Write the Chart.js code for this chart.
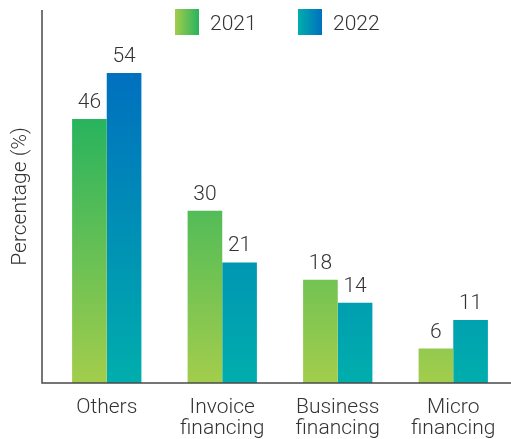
<!DOCTYPE html>
<html>
<head>
<meta charset="utf-8">
<script src="https://cdn.jsdelivr.net/npm/chart.js@4"></script>
<style>
  html, body { margin: 0; padding: 0; background: #fff; }
  #wrap { width: 511px; height: 439px; }
</style>
</head>
<body>
<div id="wrap"><canvas id="chart"></canvas></div>
<script>
// Chart data
const categories = [['Others'], ['Invoice', 'financing'], ['Business', 'financing'], ['Micro', 'financing']];
const series2021 = [46, 30, 18, 6];
const series2022 = [54, 21, 14, 11];
const seriesNames = ['2021', '2022'];

const textColor = '#333';
const fontFamily = 'Roboto, "Noto Sans", sans-serif';

// vertical gradient from the zero line up to the top value of the series
function barGradient(context, bottomColor, topColor, topValue) {
    const chart = context.chart;
    const area = chart.chartArea;
    if (!area) return bottomColor;
    const y = chart.scales.y;
    const g = chart.ctx.createLinearGradient(0, y.getPixelForValue(0), 0, y.getPixelForValue(topValue));
    g.addColorStop(0, bottomColor);
    g.addColorStop(1, topColor);
    return g;
}

// axis lines, value labels and legend
const decorations = {
    id: 'decorations',
    afterDatasetsDraw(chart) {
        const ctx = chart.ctx;
        const area = chart.chartArea;
        const axisX = area.left - 7;

        ctx.save();
        ctx.strokeStyle = '#4a4a4a';
        ctx.lineWidth = 1.5;
        ctx.beginPath();
        ctx.moveTo(axisX, area.top);
        ctx.lineTo(axisX, area.bottom);
        ctx.lineTo(area.right, area.bottom);
        ctx.stroke();

        // value labels
        ctx.fillStyle = textColor;
        ctx.font = '300 21px ' + fontFamily;
        ctx.textAlign = 'center';
        ctx.textBaseline = 'alphabetic';
        chart.data.datasets.forEach((ds, i) => {
            chart.getDatasetMeta(i).data.forEach((bar, j) => {
                ctx.fillText(String(ds.data[j]), bar.x, bar.y - 11);
            });
        });

        // legend
        const items = [
            { x: 175, c0: '#a3cd4c', c1: '#28b35e', label: seriesNames[0] },
            { x: 298, c0: '#00aeac', c1: '#0070bf', label: seriesNames[1] }
        ];
        items.forEach(it => {
            const g = ctx.createLinearGradient(it.x, 0, it.x + 24, 0);
            g.addColorStop(0, it.c0);
            g.addColorStop(1, it.c1);
            ctx.fillStyle = g;
            ctx.fillRect(it.x, 9, 24, 26);
            ctx.fillStyle = textColor;
            ctx.textAlign = 'left';
            ctx.fillText(it.label, it.x + 35, 30);
        });
        ctx.restore();
    }
};

function createChart() {
    const ctx = document.getElementById('chart').getContext('2d');
    new Chart(ctx, {
        type: 'bar',
        data: {
            labels: categories,
            datasets: [
                {
                    label: seriesNames[0],
                    data: series2021,
                    backgroundColor: c => barGradient(c, '#a3cd4c', '#28b35e', 46),
                    borderWidth: 0
                },
                {
                    label: seriesNames[1],
                    data: series2022,
                    backgroundColor: c => barGradient(c, '#00aeac', '#0070bf', 54),
                    borderWidth: 0
                }
            ]
        },
        plugins: [decorations],
        options: {
            responsive: true,
            maintainAspectRatio: false,
            animation: false,
            layout: { padding: { top: 10, right: 0, bottom: 0, left: 0 } },
            datasets: {
                bar: { barPercentage: 1, categoryPercentage: 0.6 }
            },
            plugins: {
                legend: { display: false },
                tooltip: { enabled: false }
            },
            scales: {
                x: {
                    afterFit: s => { s.height = 56; },
                    grid: { display: false },
                    border: { display: false },
                    ticks: {
                        color: textColor,
                        padding: 6,
                        maxRotation: 0,
                        autoSkip: false,
                        font: { family: fontFamily, size: 21, weight: 300, lineHeight: 1.0 }
                    }
                },
                y: {
                    min: 0,
                    max: 65,
                    afterFit: s => { s.width = 49; },
                    grid: { display: false },
                    border: { display: false },
                    ticks: { display: false },
                    title: {
                        display: true,
                        text: 'Percentage (%)',
                        color: textColor,
                        font: { family: fontFamily, size: 21, weight: 300, lineHeight: 1.2 },
                        padding: { top: 8, bottom: 16 }
                    }
                }
            }
        }
    });
}

window.onload = function () {
    createChart();
};
</script>
</body>
</html>
